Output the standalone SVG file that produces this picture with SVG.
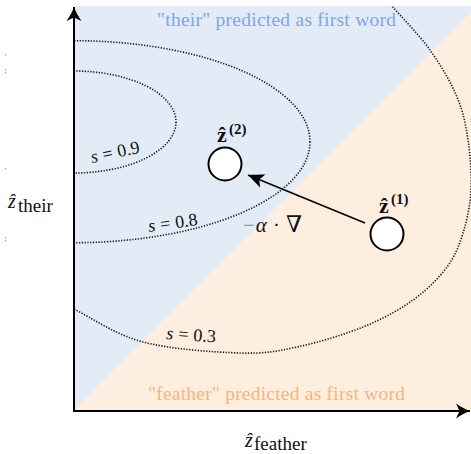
<svg xmlns="http://www.w3.org/2000/svg" width="471" height="454" viewBox="0 0 471 454">
<style>
text{font-family:"Liberation Serif","DejaVu Serif",serif;fill:#111}
.contour{fill:none;stroke:#1a1a1a;stroke-width:1.6;stroke-dasharray:1.3 1.5}
.node{fill:#fff;stroke:#000;stroke-width:2}
.axis{stroke:#000;stroke-width:2;fill:none}
.slab{font-size:18px}
</style>
<defs>
<clipPath id="plot"><rect x="74" y="6" width="397" height="405"/></clipPath>
<marker id="axhead" viewBox="-16 -8 17 16" markerWidth="17" markerHeight="16" refX="0" refY="0" orient="auto" markerUnits="userSpaceOnUse">
<path d="M0,0 C-4,-1.5 -9,-4 -14,-7.5 L-10.5,0 L-14,7.5 C-9,4 -4,1.5 0,0 Z" fill="#000"/>
</marker>
<marker id="gradhead" viewBox="-17 -8 18 16" markerWidth="18" markerHeight="16" refX="0" refY="0" orient="auto" markerUnits="userSpaceOnUse">
<path d="M0,0 C-4,-1.5 -10,-4.5 -16,-7 L-12,0 L-16,7 C-10,4.5 -4,1.5 0,0 Z" fill="#000"/>
</marker>
</defs>

<g id="background">
<polygon points="74,6 471,6 471,13 74,411" fill="#e3ebf7"/>
<polygon points="74,411 471,13 471,411" fill="#fdeee0"/>
</g>

<g id="region-labels">
<text x="157" y="26" font-size="19.5" textLength="239" style="fill:#7fa6e3">"their" predicted as first word</text>
<text x="148" y="400" font-size="19.5" textLength="257" style="fill:#f8b47c">"feather" predicted as first word</text>
</g>

<g id="contours" clip-path="url(#plot)">
<ellipse class="contour" cx="74" cy="122" rx="102" ry="51"/>
<ellipse class="contour" cx="74" cy="141.7" rx="236" ry="101"/>
<path class="contour" d="M30,285 L74,309 C92.8,318.5 115.3,334.7 143,342 C170.7,349.3 214.3,352.2 240,353 C265.7,353.8 276.5,351.3 297,347 C317.5,342.7 343.7,334.8 363,327 C382.3,319.2 399,310 413,300 C427,290 438.7,278.2 447,267 C455.3,255.8 459,245.8 463,233 C467,220.2 470.2,205.5 471,190 C471.8,174.5 470.3,155.5 468,140 C465.7,124.5 463.3,112 457,97 C450.7,82 440.8,65.2 430,50 C419.2,34.8 402,17.7 392,6 L370,-20"/>
</g>

<g id="contour-labels" class="slab">
<text transform="translate(92,163) rotate(-12)"><tspan font-style="italic">s</tspan><tspan dx="5">=</tspan><tspan dx="5">0.9</tspan></text>
<text transform="translate(149,232) rotate(-8)"><tspan font-style="italic">s</tspan><tspan dx="5">=</tspan><tspan dx="5">0.8</tspan></text>
<text transform="translate(166,339) rotate(4)"><tspan font-style="italic">s</tspan><tspan dx="5">=</tspan><tspan dx="5">0.3</tspan></text>
</g>

<g id="axes">
<line class="axis" x1="74" y1="412" x2="74" y2="7" marker-end="url(#axhead)"/>
<line class="axis" x1="73" y1="411" x2="470" y2="411" marker-end="url(#axhead)"/>
</g>

<g id="axis-labels">
<text x="8" y="208" font-size="20" font-style="italic">ẑ</text>
<text x="18" y="212" font-size="19">their</text>
<text x="245" y="447" font-size="20" font-style="italic">ẑ</text>
<text x="254" y="450" font-size="19">feather</text>
</g>

<g id="connectors">
<line x1="365" y1="223" x2="248" y2="175" stroke="#000" stroke-width="1.7" marker-end="url(#gradhead)"/>
<text x="243" y="232" font-size="21"><tspan style="fill:#8a8a8a">−</tspan><tspan font-style="italic" dx="1">α</tspan><tspan dx="6">·</tspan><tspan dx="6" font-size="23">∇</tspan></text>
</g>

<g id="z2">
<circle class="node" cx="225" cy="164" r="16.5"/>
<text x="217" y="142" font-size="22" font-weight="bold">ẑ</text>
<text x="229" y="134" font-size="15" font-weight="bold">(2)</text>
</g>

<g id="z1">
<circle class="node" cx="387" cy="234" r="16.5"/>
<text x="379" y="212.5" font-size="22" font-weight="bold">ẑ</text>
<text x="391" y="204" font-size="15" font-weight="bold">(1)</text>
</g>

<g id="edge-marks" fill="#999">
<rect x="5" y="54" width="1" height="1.5"/>
<rect x="5" y="69" width="1" height="1.5"/>
<rect x="5" y="72" width="1" height="1.5"/>
<rect x="5" y="168" width="1" height="1.5"/>
<rect x="5" y="237" width="1" height="1.5"/>
<rect x="5" y="240" width="1" height="1.5"/>
</g>
</svg>
